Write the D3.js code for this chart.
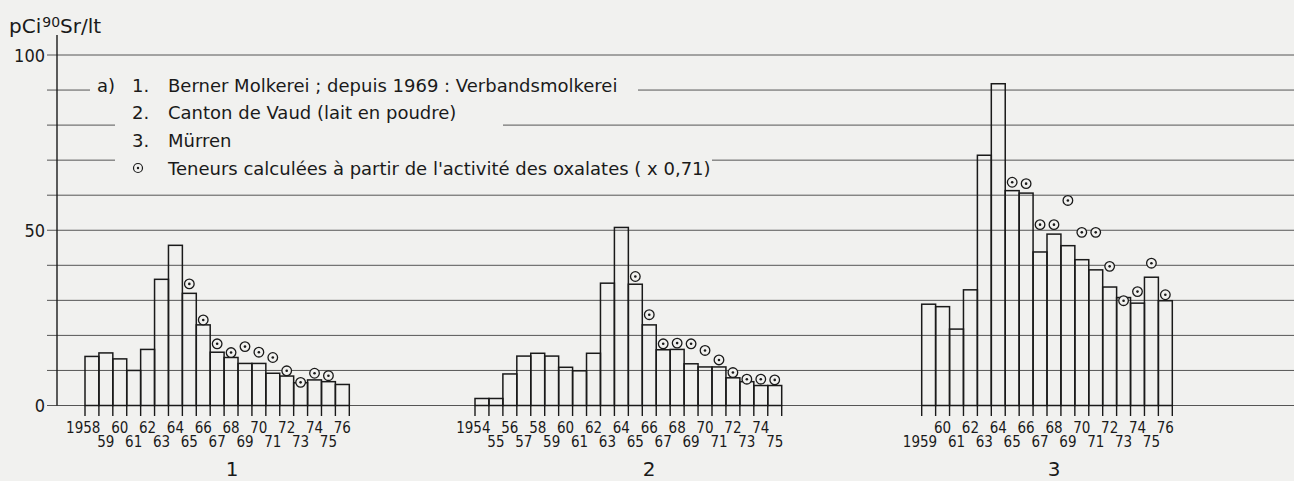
<!DOCTYPE html>
<html>
<head>
<meta charset="utf-8">
<script src="https://cdn.jsdelivr.net/npm/d3@7"></script>
<style>
  html, body { margin: 0; padding: 0; background: #f1f1ef; }
  svg { display: block; }
  text { font-family: "DejaVu Sans Condensed", "DejaVu Sans", sans-serif; fill: #1a1a1a; }
  text.wide { font-family: "DejaVu Sans", sans-serif; }
</style>
</head>
<body>
<div id="chart"></div>
<script>
// Werte (pCi 90Sr / lt)
const years1 = [1958, 1959, 1960, 1961, 1962, 1963, 1964, 1965, 1966, 1967, 1968, 1969, 1970, 1971, 1972, 1973, 1974, 1975, 1976];
const values1 = [14, 15, 13.3, 10, 16, 36, 45.7, 32, 23, 15.2, 13.7, 12, 12, 9.2, 8.4, 6.5, 7.3, 6.8, 6];
const oxYears1 = [1965, 1966, 1967, 1968, 1969, 1970, 1971, 1972, 1973, 1974, 1975];
const oxValues1 = [34.7, 24.4, 17.6, 15.1, 16.8, 15.2, 13.7, 9.9, 6.6, 9.2, 8.5];

const years2 = [1954, 1955, 1956, 1957, 1958, 1959, 1960, 1961, 1962, 1963, 1964, 1965, 1966, 1967, 1968, 1969, 1970, 1971, 1972, 1973, 1974, 1975];
const values2 = [2, 2, 9, 14.1, 14.9, 14.1, 10.9, 9.9, 14.9, 34.9, 50.8, 34.6, 23, 15.9, 16, 11.9, 11, 11, 7.9, 6.8, 5.7, 5.7];
const oxYears2 = [1965, 1966, 1967, 1968, 1969, 1970, 1971, 1972, 1973, 1974, 1975];
const oxValues2 = [36.8, 25.9, 17.6, 17.8, 17.6, 15.7, 13, 9.4, 7.5, 7.5, 7.3];

const years3 = [1959, 1960, 1961, 1962, 1963, 1964, 1965, 1966, 1967, 1968, 1969, 1970, 1971, 1972, 1973, 1974, 1975, 1976];
const values3 = [28.9, 28.2, 21.8, 33, 71.4, 91.8, 61.3, 60.6, 43.8, 48.9, 45.6, 41.6, 38.7, 33.8, 30.8, 29.2, 36.6, 29.9];
const oxYears3 = [1965, 1966, 1967, 1968, 1969, 1970, 1971, 1972, 1973, 1974, 1975, 1976];
const oxValues3 = [63.7, 63.3, 51.6, 51.6, 58.5, 49.4, 49.4, 39.7, 29.9, 32.5, 40.6, 31.6];

const groupNames = ["1", "2", "3"];
const yTickLabels = [0, 50, 100];
const legendRows = [
    { num: "1.", text: "Berner Molkerei ; depuis 1969 : Verbandsmolkerei" },
    { num: "2.", text: "Canton de Vaud (lait en poudre)" },
    { num: "3.", text: "Mürren" },
    { num: "", text: "Teneurs calculées à partir de l'activité des oxalates ( x 0,71)" }
];

function drawChart() {
    const W = 1294, H = 481;
    const svg = d3.select("#chart").append("svg")
                  .attr("width", W)
                  .attr("height", H);

    const bg = "#f1f1ef";
    const ink = "#1a1a1a";
    const y = d3.scaleLinear().domain([0, 100]).range([405.5, 55]);
    const axisX = 57;

    // Gitterlinien, teilweise von der Legende unterbrochen
    const gaps = { 90: [90, 638], 80: [115, 503], 70: [115, 712] };
    const gridVals = d3.range(0, 101, 10);
    gridVals.forEach(v => {
        const segs = gaps[v] ? [[47, gaps[v][0]], [gaps[v][1], W]] : [[47, W]];
        segs.forEach(s => {
            svg.append("line")
               .attr("x1", s[0]).attr("x2", s[1])
               .attr("y1", y(v)).attr("y2", y(v))
               .attr("stroke", "#555")
               .attr("stroke-width", 1);
        });
    });

    // y-Achse
    svg.append("line")
       .attr("x1", axisX).attr("x2", axisX)
       .attr("y1", 35).attr("y2", y(0))
       .attr("stroke", ink).attr("stroke-width", 1.4);

    svg.selectAll("text.ylab")
       .data(yTickLabels)
       .enter()
       .append("text")
       .attr("class", "ylab")
       .attr("x", 45)
       .attr("y", d => y(d) + 6.5)
       .attr("text-anchor", "end")
       .attr("font-size", "18px")
       .text(d => d);

    // Titel
    const title = svg.append("text").attr("class", "wide").attr("x", 9).attr("y", 33).attr("font-size", "20px");
    title.append("tspan").text("pCi");
    title.append("tspan").attr("font-size", "14px").attr("dy", -6).attr("dx", 1).text("90");
    title.append("tspan").attr("dy", 6).text("Sr/lt");

    // Gruppen
    const groups = [
        { years: years1, values: values1, oxYears: oxYears1, oxValues: oxValues1, range: [85, 349.3], labelX: 232 },
        { years: years2, values: values2, oxYears: oxYears2, oxValues: oxValues2, range: [475, 781.7], labelX: 649 },
        { years: years3, values: values3, oxYears: oxYears3, oxValues: oxValues3, range: [921.7, 1172.3], labelX: 1054 }
    ];

    groups.forEach((g, gi) => {
        const x = d3.scaleBand().domain(g.years).range(g.range).padding(0);
        const bw = x.bandwidth();
        const gEl = svg.append("g");

        // Tickstriche unter der Nulllinie an den Balkenkanten
        const edges = g.years.map(yr => x(yr)).concat([g.range[1]]);
        gEl.selectAll("line.tick")
           .data(edges)
           .enter()
           .append("line")
           .attr("x1", d => d).attr("x2", d => d)
           .attr("y1", y(0)).attr("y2", 416)
           .attr("stroke", ink).attr("stroke-width", 1.4);

        // Balken (ohne Füllung, Gitter scheint durch)
        gEl.selectAll("rect.bar")
           .data(g.years.map((yr, i) => ({ yr: yr, v: g.values[i] })))
           .enter()
           .append("rect")
           .attr("x", d => x(d.yr))
           .attr("y", d => y(d.v))
           .attr("width", bw)
           .attr("height", d => y(0) - y(d.v))
           .attr("fill", "none")
           .attr("stroke", ink)
           .attr("stroke-width", 1.5);

        // Jahresbeschriftung in zwei Zeilen
        gEl.selectAll("text.xlab")
           .data(g.years)
           .enter()
           .append("text")
           .attr("class", "xlab")
           .attr("x", (d, i) => x(d) + bw / 2 + (i === 0 ? 8.5 : 0))
           .attr("y", d => d % 2 === 0 ? 433 : 447)
           .attr("text-anchor", (d, i) => i === 0 ? "end" : "middle")
           .attr("font-size", "15px")
           .text((d, i) => i === 0 ? String(d) : String(d).slice(2));

        // Oxalat-Werte
        const ox = gEl.selectAll("g.ox")
           .data(g.oxYears.map((yr, i) => ({ yr: yr, v: g.oxValues[i] })))
           .enter()
           .append("g")
           .attr("transform", d => `translate(${x(d.yr) + bw / 2}, ${y(d.v)})`);
        ox.append("circle").attr("r", 4.8).attr("fill", bg).attr("stroke", ink).attr("stroke-width", 1.3);
        ox.append("circle").attr("r", 1.3).attr("fill", ink);

        svg.append("text")
           .attr("class", "wide")
           .attr("x", g.labelX)
           .attr("y", 476)
           .attr("text-anchor", "middle")
           .attr("font-size", "20px")
           .text(groupNames[gi]);
    });

    // Legende
    svg.append("text").attr("class", "wide").attr("x", 97).attr("y", 92).attr("font-size", "18px").text("a)");
    const rowY = [92, 119, 147, 175];
    legendRows.forEach((r, i) => {
        if (r.num) {
            svg.append("text").attr("class", "wide").attr("x", 132).attr("y", rowY[i]).attr("font-size", "18px").text(r.num);
        } else {
            svg.append("circle").attr("cx", 138).attr("cy", rowY[i] - 7).attr("r", 4.5)
               .attr("fill", "none").attr("stroke", ink).attr("stroke-width", 1.2);
            svg.append("circle").attr("cx", 138).attr("cy", rowY[i] - 7).attr("r", 1.2).attr("fill", ink);
        }
        svg.append("text").attr("class", "wide").attr("x", 168).attr("y", rowY[i]).attr("font-size", "18px").text(r.text);
    });
}

document.addEventListener('DOMContentLoaded', () => {
    drawChart();
});
</script>
</body>
</html>
